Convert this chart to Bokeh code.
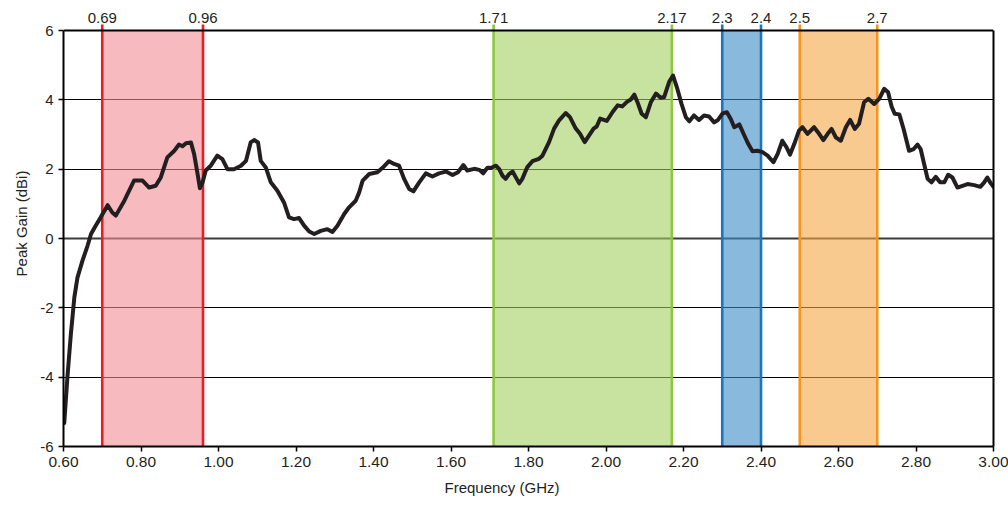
from bokeh.plotting import figure
from bokeh.models import Range1d, LinearAxis, FixedTicker, Span, Grid, NumeralTickFormatter, Title
from bokeh.core.properties import value
from bokeh.embed import file_html
from bokeh.resources import INLINE

# ---- data ----
freq = [0.602, 0.610, 0.619, 0.628, 0.636, 0.649, 0.662, 0.671, 0.683, 0.696,
        0.714, 0.726, 0.735, 0.757, 0.782, 0.804, 0.821, 0.838, 0.851, 0.868,
        0.886, 0.898, 0.907, 0.916, 0.929, 0.937, 0.946, 0.952, 0.959, 0.967,
        0.980, 0.997, 1.010, 1.023, 1.040, 1.058, 1.071, 1.083, 1.092, 1.102,
        1.109, 1.122, 1.135, 1.152, 1.169, 1.182, 1.195, 1.208, 1.221, 1.234,
        1.247, 1.264, 1.281, 1.294, 1.307, 1.324, 1.337, 1.354, 1.363, 1.372,
        1.389, 1.410, 1.427, 1.440, 1.453, 1.466, 1.479, 1.492, 1.503, 1.518,
        1.535, 1.552, 1.569, 1.587, 1.604, 1.618, 1.632, 1.642, 1.660, 1.673,
        1.683, 1.694, 1.704, 1.716, 1.724, 1.733, 1.741, 1.750, 1.759, 1.767,
        1.776, 1.784, 1.797, 1.810, 1.827, 1.836, 1.853, 1.866, 1.879, 1.896,
        1.907, 1.922, 1.933, 1.945, 1.956, 1.968, 1.976, 1.985, 2.002, 2.017,
        2.030, 2.042, 2.054, 2.064, 2.073, 2.081, 2.092, 2.103, 2.116, 2.129,
        2.141, 2.150, 2.163, 2.173, 2.184, 2.195, 2.206, 2.215, 2.227, 2.240,
        2.253, 2.266, 2.279, 2.289, 2.301, 2.312, 2.322, 2.331, 2.344, 2.357,
        2.367, 2.378, 2.391, 2.404, 2.417, 2.432, 2.443, 2.455, 2.466, 2.475,
        2.486, 2.498, 2.507, 2.520, 2.537, 2.550, 2.561, 2.572, 2.582, 2.593,
        2.606, 2.619, 2.630, 2.642, 2.653, 2.666, 2.677, 2.692, 2.705, 2.718,
        2.728, 2.737, 2.745, 2.757, 2.768, 2.782, 2.794, 2.804, 2.812, 2.821,
        2.830, 2.840, 2.851, 2.862, 2.873, 2.883, 2.894, 2.907, 2.920, 2.933,
        2.950, 2.966, 2.976, 2.984, 2.993, 3.000]
gain = [-5.32, -4.02, -2.76, -1.70, -1.13, -0.64, -0.21, 0.13, 0.37, 0.61,
        0.96, 0.75, 0.66, 1.09, 1.67, 1.67, 1.47, 1.52, 1.76, 2.34,
        2.53, 2.71, 2.66, 2.75, 2.77, 2.44, 1.86, 1.45, 1.62, 1.96,
        2.10, 2.39, 2.29, 2.00, 2.00, 2.10, 2.24, 2.77, 2.84, 2.77,
        2.24, 2.05, 1.62, 1.38, 1.04, 0.61, 0.56, 0.59, 0.37, 0.20,
        0.13, 0.22, 0.27, 0.19, 0.37, 0.70, 0.90, 1.09, 1.33, 1.67,
        1.86, 1.91, 2.08, 2.23, 2.15, 2.10, 1.72, 1.43, 1.36, 1.62,
        1.88, 1.79, 1.88, 1.93, 1.83, 1.91, 2.12, 1.96, 2.01, 1.98,
        1.88, 2.04, 2.04, 2.10, 2.01, 1.81, 1.72, 1.86, 1.93, 1.77,
        1.59, 1.72, 2.06, 2.23, 2.30, 2.39, 2.78, 3.17, 3.41, 3.62,
        3.50, 3.17, 3.02, 2.78, 2.97, 3.17, 3.23, 3.46, 3.39, 3.65,
        3.84, 3.81, 3.94, 4.01, 4.15, 3.94, 3.60, 3.50, 3.94, 4.18,
        4.06, 4.08, 4.52, 4.70, 4.32, 3.88, 3.50, 3.38, 3.55, 3.42,
        3.55, 3.52, 3.35, 3.42, 3.61, 3.64, 3.45, 3.21, 3.29, 2.97,
        2.73, 2.52, 2.53, 2.49, 2.39, 2.20, 2.44, 2.82, 2.63, 2.42,
        2.73, 3.11, 3.21, 3.02, 3.21, 3.02, 2.84, 3.02, 3.16, 2.92,
        2.82, 3.21, 3.42, 3.16, 3.31, 3.93, 4.03, 3.88, 4.03, 4.32,
        4.22, 3.81, 3.60, 3.58, 3.16, 2.53, 2.58, 2.71, 2.58, 2.15,
        1.72, 1.62, 1.78, 1.62, 1.62, 1.84, 1.76, 1.47, 1.52, 1.57,
        1.54, 1.49, 1.62, 1.76, 1.59, 1.49]

band_lo = [0.70, 1.71, 2.30, 2.50]
band_hi = [0.96, 2.17, 2.40, 2.70]
band_labels_lo = ["0.69", "1.71", "2.3", "2.5"]
band_labels_hi = ["0.96", "2.17", "2.4", "2.7"]

x_ticks = [0.60, 0.80, 1.00, 1.20, 1.40, 1.60, 1.80, 2.00, 2.20, 2.40, 2.60, 2.80, 3.00]
y_ticks = [-6, -4, -2, 0, 2, 4, 6]

# ---- styling ----
FONT = "Liberation Sans"
TXT = "#231f20"
band_fill = ["#f28e94", "#a3cf61", "#3c8ac8", "#f5a744"]   # drawn at alpha 0.6
band_edge = ["#ed1c24", "#8dc63f", "#1c75bc", "#f7941d"]

px_per_unit = 416 / 12.0
y_top = y_ticks[-1] + 30 / px_per_unit

p = figure(width=1008, height=506,
           x_range=Range1d(x_ticks[0], x_ticks[-1]),
           y_range=Range1d(y_ticks[0], y_top),
           output_backend="svg", toolbar_location=None,
           min_border_left=63, min_border_right=15,
           min_border_top=0, min_border_bottom=60)
p.outline_line_color = None
p.background_fill_color = "white"
p.border_fill_color = "white"

# grids
p.xgrid.visible = False
p.ygrid.ticker = FixedTicker(ticks=[t for t in y_ticks if t not in (0, y_ticks[0], y_ticks[-1])])
p.ygrid.grid_line_color = "black"
p.ygrid.grid_line_width = 1
zero_grid = Grid(dimension=1, ticker=FixedTicker(ticks=[0]),
                 grid_line_color="#3d3d3d", grid_line_width=2)
p.add_layout(zero_grid)

# bands
p.quad(left=band_lo, right=band_hi, bottom=y_ticks[0], top=y_ticks[-1],
       fill_color=band_fill, fill_alpha=0.6, line_color=None)

# top border of the chart area
p.add_layout(Span(location=y_ticks[-1], dimension="width",
                  line_color="black", line_width=2))

# band edge lines (extend slightly above the frame top)
edge_x = band_lo + band_hi
edge_c = band_edge + band_edge
edge_lbl = band_labels_lo + band_labels_hi
stub = y_ticks[-1] + 6 / px_per_unit
p.segment(x0=edge_x, y0=[y_ticks[0]] * len(edge_x), x1=edge_x, y1=[stub] * len(edge_x),
          line_color=edge_c, line_width=2.6)

p.text(x=edge_x, y=[y_ticks[-1]] * len(edge_x), text=edge_lbl,
       text_align="center", text_baseline="alphabetic", y_offset=-13,
       text_font=value(FONT), text_font_size="15px", text_color=TXT)

# curve
p.line(freq, gain, line_color=TXT, line_width=4, line_join="round", line_cap="round")

# axes
xa = p.xaxis[0]
xa.ticker = FixedTicker(ticks=x_ticks)
xa.formatter = NumeralTickFormatter(format="0.00")
ya = p.yaxis[0]
ya.ticker = FixedTicker(ticks=y_ticks)
ya.formatter = NumeralTickFormatter(format="0")
ya.bounds = (y_ticks[0], y_ticks[-1])
ya.axis_label = "Peak Gain (dBi)"

for ax, fs in ((xa, "15.5px"), (ya, "15px")):
    ax.axis_line_color = "black"
    ax.axis_line_width = 2
    ax.major_tick_line_color = "black"
    ax.major_tick_line_width = 1.5
    ax.major_tick_out = 5
    ax.major_tick_in = 0
    ax.minor_tick_line_color = None
    ax.major_label_text_font = FONT
    ax.major_label_text_font_size = fs
    ax.major_label_text_color = TXT
    ax.axis_label_text_font = FONT
    ax.axis_label_text_font_size = "15px"
    ax.axis_label_text_font_style = "normal"
    ax.axis_label_text_color = TXT

xa.major_label_standoff = 5
ya.major_label_standoff = 5
ya.axis_label_standoff = 7

# x-axis title: in the reference it sits a little left of the frame centre
p.add_layout(Title(text="Frequency (GHz)", align="left", offset=381, standoff=15,
                   text_font=FONT, text_font_size="15px", text_font_style="normal",
                   text_color=TXT), "below")

ra = LinearAxis(bounds=(y_ticks[0], y_ticks[-1]), ticker=FixedTicker(ticks=[]),
                major_label_text_font_size="0px", major_tick_line_color=None,
                minor_tick_line_color=None, major_label_standoff=0,
                axis_line_color="black", axis_line_width=2)
p.add_layout(ra, "right")

open("out.html", "w").write(file_html(p, INLINE))
